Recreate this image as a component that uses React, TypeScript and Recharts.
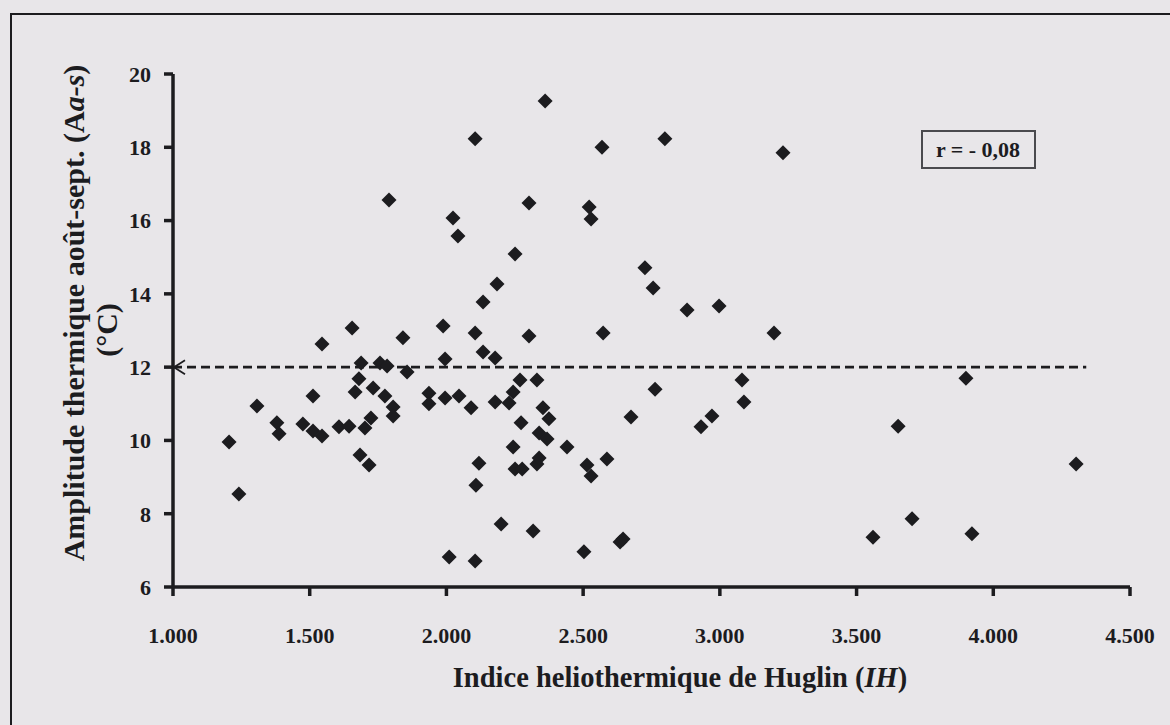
import React from "react"
import { ScatterChart, Scatter, XAxis, YAxis, ReferenceLine, ReferenceDot } from "recharts"

// Indice héliothermique de Huglin (IH) par région
const ihValues = [
  1205, 1241, 1307, 1380, 1388, 1475, 1512, 1512, 1545, 1545,
  1607, 1644, 1655, 1666, 1680, 1684, 1688, 1702, 1717, 1724,
  1732, 1757, 1775, 1783, 1790, 1805, 1805, 1841, 1856, 1936,
  1936, 1988, 1995, 1995, 2010, 2024, 2042, 2046, 2090, 2105,
  2105, 2105, 2108, 2119, 2134, 2134, 2178, 2178, 2185, 2200,
  2229, 2244, 2244, 2251, 2251, 2269, 2273, 2277, 2302, 2302,
  2317, 2331, 2331, 2339, 2339, 2353, 2361, 2368, 2375, 2441,
  2503, 2514, 2522, 2529, 2529, 2569, 2573, 2587, 2635, 2646,
  2675, 2726, 2756, 2763, 2799, 2880, 2931, 2971, 2997, 3081,
  3088, 3198, 3231, 3560, 3652, 3703, 3900, 3922, 4303,
]

// Amplitude thermique août-sept. (°C)
const amplitudeValues = [
  9.96, 8.54, 10.94, 10.48, 10.18, 10.45, 11.21, 10.26, 10.12, 12.63,
  10.37, 10.39, 13.07, 11.32, 11.68, 9.6, 12.11, 10.34, 9.33, 10.61,
  11.43, 12.11, 11.21, 12.03, 16.56, 10.91, 10.67, 12.8, 11.87, 11.29,
  11.0, 13.12, 12.22, 11.16, 6.82, 16.07, 15.58, 11.21, 10.89, 18.23,
  12.93, 6.71, 8.78, 9.38, 13.78, 12.41, 12.25, 11.05, 14.27, 7.72,
  11.02, 11.32, 9.82, 15.09, 9.22, 11.65, 10.48, 9.22, 16.48, 12.85,
  7.53, 11.65, 9.36, 10.2, 9.52, 10.89, 19.26, 10.04, 10.59, 9.82,
  6.96, 9.33, 16.37, 16.04, 9.03, 18.0, 12.93, 9.49, 7.23, 7.31,
  10.64, 14.71, 14.16, 11.4, 18.23, 13.56, 10.37, 10.67, 13.67, 11.65,
  11.05, 12.93, 17.85, 7.36, 10.39, 7.86, 11.7, 7.45, 9.36,
]

const xTicks = [1000, 1500, 2000, 2500, 3000, 3500, 4000, 4500]
const yTicks = [6, 8, 10, 12, 14, 16, 18, 20]
const seuilAmplitude = 12
const seuilFin = 4340

const points = ihValues.map((x, i) => ({ x, y: amplitudeValues[i] }))

const INK = "#1c1c1f"
const PAPER = "#e8e6e9"
const SERIF = "Liberation Serif, Times New Roman, serif"

const fmtMillier = (v: number) => `${Math.floor(v / 1000)}.${String(v % 1000).padStart(3, "0")}`

const Losange = (props: any) => {
  const { cx, cy } = props
  if (cx == null || cy == null) return null
  const r = 7.5
  return <polygon points={`${cx},${cy - r} ${cx + r},${cy} ${cx},${cy + r} ${cx - r},${cy}`} fill={INK} />
}

const Fleche = (props: any) => {
  const { cx, cy } = props
  if (cx == null || cy == null) return null
  return (
    <path
      d={`M${cx + 12},${cy - 7} L${cx + 1},${cy} L${cx + 12},${cy + 7}`}
      fill="none"
      stroke={INK}
      strokeWidth={1.8}
    />
  )
}

export default function App() {
  const tickStyle = { fill: INK, fontSize: 22, fontWeight: 700, fontFamily: SERIF }

  return (
    <div style={{ position: "absolute", left: 0, top: 0, width: 1170, height: 725, background: PAPER, overflow: "hidden" }}>
      <div
        style={{
          position: "absolute",
          left: 10,
          top: 13,
          width: 1200,
          height: 760,
          border: `2px solid ${INK}`,
          boxSizing: "border-box",
        }}
      />
      <ScatterChart width={1170} height={725} margin={{ top: 74, right: 40, bottom: 78, left: 93 }}>
        <XAxis
          type="number"
          dataKey="x"
          domain={[1000, 4500]}
          ticks={xTicks}
          tickFormatter={fmtMillier}
          height={60}
          stroke={INK}
          strokeWidth={3.5}
          axisLine={{ stroke: INK, strokeWidth: 3.5 }}
          tickLine={{ stroke: INK, strokeWidth: 3.5 }}
          tickSize={9}
          tickMargin={31}
          tick={tickStyle}
          interval={0}
        />
        <YAxis
          type="number"
          dataKey="y"
          domain={[6, 20]}
          ticks={yTicks}
          width={80}
          stroke={INK}
          strokeWidth={3.5}
          axisLine={{ stroke: INK, strokeWidth: 3.5 }}
          tickLine={{ stroke: INK, strokeWidth: 3.5 }}
          tickSize={9}
          tickMargin={13}
          tick={tickStyle}
          interval={0}
        />
        <ReferenceLine
          segment={[
            { x: 1000, y: seuilAmplitude },
            { x: seuilFin, y: seuilAmplitude },
          ]}
          stroke={INK}
          strokeWidth={2.6}
          strokeDasharray="9 5"
        />
        <ReferenceDot x={1000} y={seuilAmplitude} shape={Fleche} />
        <Scatter data={points} shape={Losange} isAnimationActive={false} />
      </ScatterChart>

      <svg width={1170} height={725} style={{ position: "absolute", left: 0, top: 0, pointerEvents: "none" }}>
        <text
          transform="translate(84,313) rotate(-90)"
          textAnchor="middle"
          fontFamily={SERIF}
          fontWeight={700}
          fontSize={30}
          fill={INK}
        >
          Amplitude thermique août-sept. (A<tspan fontStyle="italic">a-s</tspan>)
        </text>
        <text
          transform="translate(117,330) rotate(-90)"
          textAnchor="middle"
          fontFamily={SERIF}
          fontWeight={700}
          fontSize={30}
          fill={INK}
        >
          (°C)
        </text>
        <text x={680} y={687} textAnchor="middle" fontFamily={SERIF} fontWeight={700} fontSize={28.5} fill={INK}>
          Indice heliothermique de Huglin (<tspan fontStyle="italic">IH</tspan>)
        </text>
        <rect x={922} y={131} width={113} height={37} fill={PAPER} stroke="#4a4a4e" strokeWidth={2} />
        <text x={978} y={157} textAnchor="middle" fontFamily={SERIF} fontWeight={700} fontSize={22} fill={INK}>
          r = - 0,08
        </text>
      </svg>
    </div>
  )
}
